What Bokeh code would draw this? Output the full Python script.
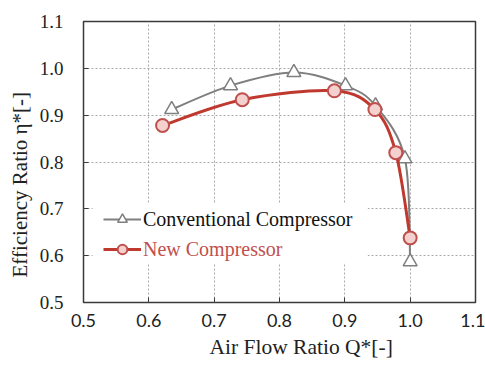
from bokeh.plotting import figure
from bokeh.models import (FixedTicker, PrintfTickFormatter, Legend, LegendItem,
                          Title, BoxAnnotation, ColumnDataSource)
from bokeh.embed import file_html
from bokeh.resources import INLINE

# ---- data ----
conv_q = [0.635, 0.725, 0.822, 0.901, 0.947, 0.992, 1.000]
conv_eff = [0.912, 0.963, 0.991, 0.963, 0.920, 0.807, 0.587]
new_q = [0.621, 0.743, 0.884, 0.946, 0.978, 1.000]
new_eff = [0.878, 0.933, 0.952, 0.912, 0.820, 0.638]
ticks = [0.5, 0.6, 0.7, 0.8, 0.9, 1.0, 1.1]

conv_label = "Conventional Compressor"
new_label = "New Compressor"
x_title = "Air Flow Ratio Q*[-]"
y_title = "Efficiency Ratio \u03b7*[-]"

GRAY = "#7f7f7f"
RED = "#c0392f"
RED_TXT = "#c0504d"
PINK = "#f4d0cf"


def smooth_segments(xs, ys):
    """Bezier segments (smoothed line through the data points)."""
    n = len(xs)
    d = dict(x0=[], y0=[], x1=[], y1=[], cx0=[], cy0=[], cx1=[], cy1=[])
    for i in range(n - 1):
        xp, yp = (xs[i - 1], ys[i - 1]) if i > 0 else (xs[i], ys[i])
        xn, yn = (xs[i + 2], ys[i + 2]) if i + 2 < n else (xs[i + 1], ys[i + 1])
        d["x0"].append(xs[i]); d["y0"].append(ys[i])
        d["x1"].append(xs[i + 1]); d["y1"].append(ys[i + 1])
        d["cx0"].append(xs[i] + (xs[i + 1] - xp) / 6)
        d["cy0"].append(ys[i] + (ys[i + 1] - yp) / 6)
        d["cx1"].append(xs[i + 1] - (xn - xs[i]) / 6)
        d["cy1"].append(ys[i + 1] - (yn - ys[i]) / 6)
    return ColumnDataSource(d)


p = figure(width=485, height=367, x_range=(0.5, 1.1), y_range=(0.5, 1.1),
           output_backend="svg", toolbar_location=None,
           min_border_left=83, min_border_right=10, min_border_top=21,
           min_border_bottom=65)
p.background_fill_color = "white"
p.border_fill_color = "white"
p.outline_line_color = "#3a3a3a"
p.outline_line_width = 1.5

for ax in (p.xaxis[0], p.yaxis[0]):
    ax.ticker = FixedTicker(ticks=ticks)
    ax.formatter = PrintfTickFormatter(format="%.1f")
    ax.axis_line_color = None
    ax.major_tick_in = 5
    ax.major_tick_out = 0
    ax.major_tick_line_color = "#3a3a3a"
    ax.minor_tick_line_color = None
    ax.major_label_text_color = "#222222"

p.xaxis.major_label_text_font = "Lato"
p.xaxis.major_label_text_font_size = "18px"
p.xaxis.major_label_standoff = 11
p.yaxis.major_label_text_font = "Liberation Serif"
p.yaxis.major_label_text_font_size = "19px"
p.yaxis.major_label_standoff = 20

p.grid.ticker = FixedTicker(ticks=ticks)
p.grid.grid_line_color = "#a8a8a8"
p.grid.grid_line_dash = "2 2"
p.grid.grid_line_width = 1

# white area behind the legend (hides the grid there)
p.add_layout(BoxAnnotation(left=0.514, right=0.935, bottom=0.585, top=0.711,
                           fill_color="white", fill_alpha=1.0, line_color=None,
                           level="glyph"))

conv_src = smooth_segments(conv_q, conv_eff)
new_src = smooth_segments(new_q, new_eff)

c_line = p.bezier(x0="x0", y0="y0", x1="x1", y1="y1", cx0="cx0", cy0="cy0",
                  cx1="cx1", cy1="cy1", source=conv_src,
                  line_color=GRAY, line_width=2)
c_pts = p.scatter(conv_q, conv_eff, marker="triangle", size=14,
                  fill_color="white", line_color=GRAY, line_width=1.5)

n_line = p.bezier(x0="x0", y0="y0", x1="x1", y1="y1", cx0="cx0", cy0="cy0",
                  cx1="cx1", cy1="cy1", source=new_src,
                  line_color=RED, line_width=3)
n_pts = p.scatter(new_q, new_eff, marker="circle", size=13,
                  fill_color=PINK, line_color=RED_TXT, line_width=2)


def make_legend(label, rends, color, y):
    lg = Legend(items=[LegendItem(label=label, renderers=rends)],
                location=(20, y), orientation="vertical",
                glyph_width=38, glyph_height=24, label_height=24,
                label_standoff=2, padding=4, margin=0, spacing=0,
                label_text_font="Liberation Serif", label_text_font_size="20px",
                label_text_color=color, background_fill_alpha=0,
                border_line_color=None)
    p.add_layout(lg, "center")


make_legend(conv_label, [c_line, c_pts], "#111111", 71)
make_legend(new_label, [n_line, n_pts], RED_TXT, 41)

p.add_layout(Title(text=x_title, align="left", offset=126, standoff=7,
                   text_font="Liberation Serif", text_font_size="21.5px",
                   text_font_style="normal", text_color="#222222"), "below")
p.add_layout(Title(text=y_title, align="left", offset=25, standoff=9,
                   text_font="Liberation Serif", text_font_size="21px",
                   text_font_style="normal", text_color="#222222"), "left")

open("out.html", "w").write(file_html(p, INLINE))
